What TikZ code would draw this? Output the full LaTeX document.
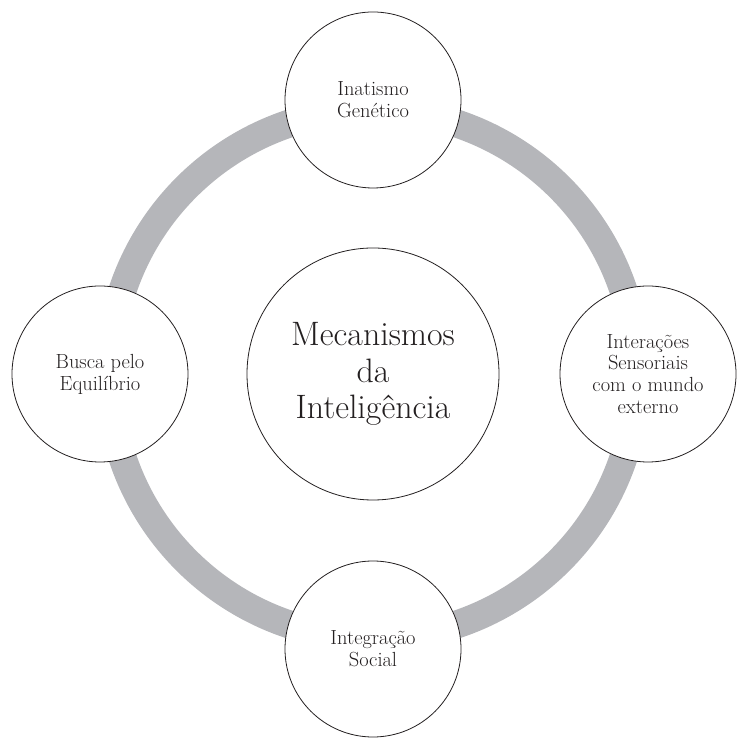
\documentclass[tikz,border=0pt]{standalone}
\usepackage{tikz}
\usetikzlibrary{positioning}
\definecolor{ringgray}{RGB}{181,182,186}
\definecolor{inkblack}{RGB}{35,31,32}

\begin{document}
\begin{tikzpicture}[x=1bp,y=1bp,
    bubble/.style={draw=inkblack,line width=0.8bp,fill=white,circle,minimum size=176bp,inner sep=0,align=center,text=inkblack,font=\fontsize{20.5}{22}\selectfont},
    hub/.style={bubble,minimum size=252bp,font=\fontsize{34}{37}\selectfont}]
    \useasboundingbox (0,0) rectangle (739,740);
    \coordinate (c) at (373,366);
    % grey ring behind the bubbles
    \draw[ringgray,line width=28bp] (c) circle (264);

    \node(mec)[hub] at (c) {Mecanismos\\da\\Inteligência};
    \node(ina)[bubble] at ([yshift=274bp]mec.center) {Inatismo\\Genético};
    \node(int)[bubble] at ([xshift=275bp]mec.center) {Interações\\Sensoriais\\com o mundo\\externo};
    \node(soc)[bubble] at ([yshift=-275bp]mec.center) {Integração\\Social};
    \node(equ)[bubble] at ([xshift=-273bp]mec.center) {Busca pelo\\Equilíbrio};
\end{tikzpicture}
\end{document}
